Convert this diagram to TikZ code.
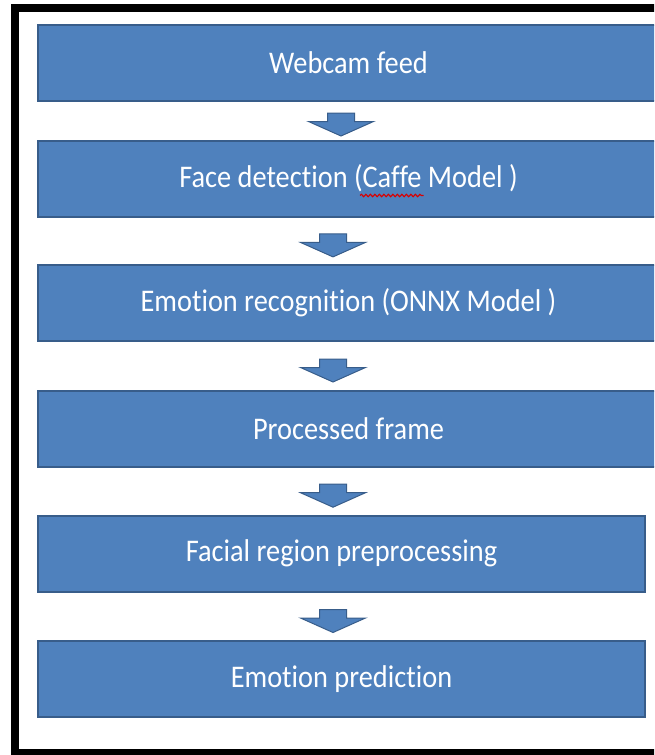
\documentclass[tikz,border=0pt]{standalone}
\usepackage{fontspec}
\setmainfont{Carlito}[FakeStretch=0.9, Ligatures=NoCommon]
\usetikzlibrary{calc,decorations.pathmorphing}
\definecolor{boxblue}{HTML}{4F81BD}
\definecolor{boxedge}{HTML}{385D8A}

\begin{document}
\begin{tikzpicture}[x=1pt,y=-1pt]
        \tikzstyle{stage}=[rectangle, draw=boxedge, fill=boxblue, line width=2pt, text=white, inner sep=0pt, minimum height=76pt, font=\fontsize{31.5}{33}\selectfont]
        \tikzstyle{flow}=[draw=boxedge, fill=boxblue, line width=1pt, line join=miter]

        \useasboundingbox (0,0) rectangle (654,755);
        \clip (0,0) rectangle (654,755);

        % outer frame, its right side runs off the page
        \draw [line width=8.5pt] (15,8) rectangle (700,753);

        \foreach \i/\y/\txt in {0/63/Webcam feed, 1/178.5/{Face detection (Caffe Model )}, 2/303/{Emotion recognition (ONNX Model )}, 3/428.5/Processed frame}
        {
          \path (348.5, \y) node[stage, minimum width=621pt] (s\i) {\txt};
        }

        \foreach \i/\y/\txt in {4/553.5/Facial region preprocessing, 5/679/Emotion prediction}
        {
          \path (341.5, \y) node[stage, minimum width=607pt] (s\i) {\txt};
        }

        % block arrows between the stages
        \foreach \i/\j/\x in {0/1/341, 1/2/333, 2/3/333, 3/4/333, 4/5/333}
        {
          \coordinate (c\i) at (\x, 0);
          \coordinate (m\i) at ($(s\i.south)!.6!(s\j.north)$);
          \draw [flow, shift={(c\i |- m\i)}]
            (-13.5,-11.5) -- (13.5,-11.5) -- (13.5,-3) -- (32.5,-3)
            -- (0,11.5) -- (-32.5,-3) -- (-13.5,-3) -- cycle;
        }

        % spell-check squiggle under Caffe
        \draw [red!85!black, line width=1.1pt, decorate, decoration={snake, amplitude=1.2pt, segment length=4.5pt}]
          ($(s1.center)+(11.5,17)$) -- ($(s1.center)+(75,17)$);
      \end{tikzpicture}
\end{document}
